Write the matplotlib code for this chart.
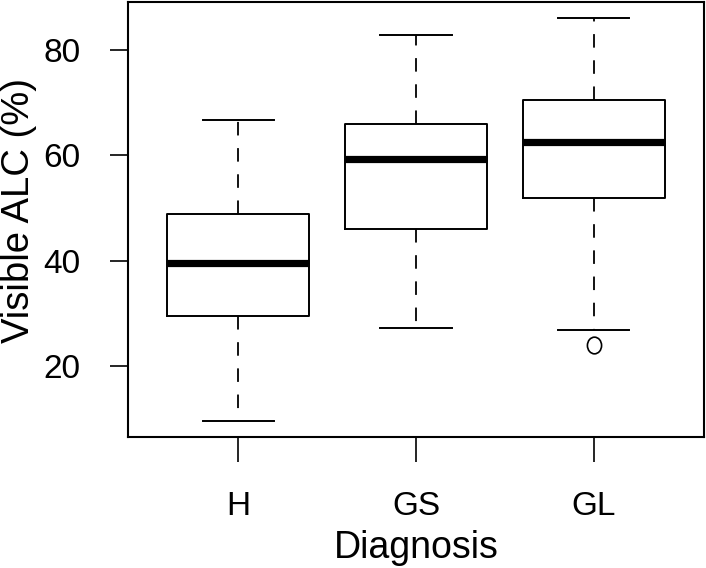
import matplotlib
matplotlib.use("Agg")
import matplotlib.pyplot as plt
from matplotlib.path import Path
from matplotlib.transforms import Affine2D

plt.rcParams['font.family'] = ['Liberation Sans', 'DejaVu Sans']

# box statistics (Visible ALC %)
groups = ["H", "GS", "GL"]
q1 = [29.4, 46.0, 51.9]
medians = [39.5, 59.4, 62.5]
q3 = [48.8, 65.9, 70.6]
whisk_lo = [9.5, 27.2, 26.8]
whisk_hi = [66.7, 82.9, 86.1]
outliers = [[], [], [24.0]]

stats = []
for i, g in enumerate(groups):
    stats.append(dict(label=g, q1=q1[i], med=medians[i], q3=q3[i],
                      whislo=whisk_lo[i], whishi=whisk_hi[i], fliers=outliers[i]))

# the original looks slightly stretched vertically, so the open circle is an ellipse
ellipse = Affine2D().scale(0.85, 1.0).transform_path(Path.unit_circle())

fig = plt.figure(figsize=(7.06, 5.68), dpi=100)
ax = fig.add_axes([128/706, 1 - 437/568, 576/706, 435/568])

lw = 1.4
ax.bxp(stats, positions=[1, 2, 3], widths=0.8, showfliers=True,
       boxprops=dict(color='black', linewidth=lw),
       medianprops=dict(color='black', linewidth=5.2, solid_capstyle='butt'),
       whiskerprops=dict(color='black', linewidth=1.3, linestyle=(0, (7.5, 7))),
       capprops=dict(color='black', linewidth=lw),
       capwidths=0.4,
       flierprops=dict(marker=ellipse, markersize=12, markerfacecolor='none',
                       markeredgecolor='black', markeredgewidth=1.2))

ax.set_xlim(0.38, 3.62)
ax.set_ylim(6.44, 89.2)
ax.set_yticks([20, 40, 60, 80])
ax.set_xticks([1, 2, 3])
ax.set_xticklabels(groups)

for s in ax.spines.values():
    s.set_linewidth(1.5)

ax.tick_params(axis='y', length=13, width=1.2, pad=21, labelsize=24)
ax.tick_params(axis='x', length=18, width=1.2, pad=21, labelsize=24)

ax.set_xlabel("Diagnosis", fontsize=27, labelpad=6)
ax.set_ylabel("Visible ALC (%)", fontsize=27.5, labelpad=3)
ax.yaxis.set_label_coords(-0.158, 0.52)

fig.savefig("out.png", dpi=100)
